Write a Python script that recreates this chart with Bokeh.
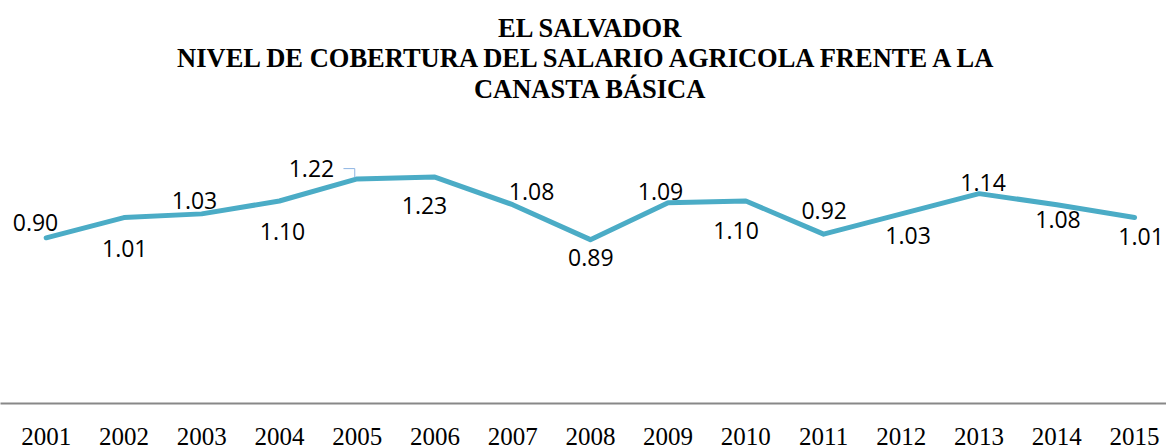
from bokeh.plotting import figure
from bokeh.models import ColumnDataSource, Range1d, FixedTicker, Label
from bokeh.core.properties import value
from bokeh.embed import file_html
from bokeh.resources import INLINE

# ---------------- data ----------------
years = [2001, 2002, 2003, 2004, 2005, 2006, 2007, 2008,
         2009, 2010, 2011, 2012, 2013, 2014, 2015]
year_labels = ["2001", "2002", "2003", "2004", "2005", "2006", "2007", "2008",
               "2009", "2010", "2011", "2012", "2013", "2014", "2015"]
coverage = [0.90, 1.01, 1.03, 1.10, 1.22, 1.23, 1.08, 0.89,
            1.09, 1.10, 0.92, 1.03, 1.14, 1.08, 1.01]
coverage_labels = ["0.90", "1.01", "1.03", "1.10", "1.22", "1.23", "1.08", "0.89",
                   "1.09", "1.10", "0.92", "1.03", "1.14", "1.08", "1.01"]
title_lines = ["EL SALVADOR",
               "NIVEL DE COBERTURA DEL SALARIO AGRICOLA FRENTE A LA",
               "CANASTA BÁSICA"]

# ---------------- layout (screen pixels) ----------------
FRAME_W = 1166
FRAME_H = 403
PX_PER_YEAR = 77.74
PX_PER_UNIT = 184.1
FIRST_YEAR_PX = 45.7            # distance of first category from frame left
label_dx = [-10.7, 0.8, -7.2, 3.1, -45.7, -10.4, 18.9, 0.4,
            -7.6, -9.8, 0.6, 6.7, 4.0, 1.2, 6.5]
label_dy = [-15.8, 31.0, -13.1, 30.6, -9.9, 28.2, -13.1, 17.4,
            -11.5, 29.6, -23.5, 21.9, -11.3, 14.6, 19.4]
title_baselines_px = [27, 57.5, 88]   # distance of title baselines from frame top
LINE_COLOR = "#4BACC6"

x_start = years[0] - FIRST_YEAR_PX / PX_PER_YEAR
x_end = x_start + FRAME_W / PX_PER_YEAR
y_end = FRAME_H / PX_PER_UNIT

p = figure(frame_width=FRAME_W, frame_height=FRAME_H,
           x_range=Range1d(x_start, x_end), y_range=Range1d(0, y_end),
           output_backend="svg", toolbar_location=None,
           min_border_left=0, min_border_right=0, min_border_top=0,
           min_border_bottom=0, background_fill_color="white",
           border_fill_color="white")
p.outline_line_color = None
p.grid.visible = False
p.yaxis.visible = False

ax = p.xaxis[0]
ax.ticker = FixedTicker(ticks=years)
ax.major_label_overrides = {y: s for y, s in zip(years, year_labels)}
ax.axis_line_color = "#888888"
ax.axis_line_width = 2
ax.major_tick_in = 0
ax.major_tick_out = 0
ax.minor_tick_in = 0
ax.minor_tick_out = 0
ax.major_label_standoff = 24
ax.major_label_text_font = "Liberation Serif"
ax.major_label_text_font_size = "25px"
ax.major_label_text_color = "black"

src = ColumnDataSource(dict(x=years, y=coverage, t=coverage_labels,
                            dx=label_dx, dy=label_dy))
p.line("x", "y", source=src, line_color=LINE_COLOR, line_width=5,
       line_join="round", line_cap="round")
p.text("x", "y", text="t", source=src, x_offset="dx", y_offset="dy",
       text_align="center", text_baseline="middle",
       text_font=value("Open Sans"), text_font_size="23px", text_color="black")

# leader line for the 2005 label
i5 = years.index(2005)
lx = [years[i5] - 13.7 / PX_PER_YEAR, years[i5] - 2.4 / PX_PER_YEAR, years[i5] - 2.4 / PX_PER_YEAR]
ly = [coverage[i5] + 10.3 / PX_PER_UNIT, coverage[i5] + 10.3 / PX_PER_UNIT, coverage[i5] + 1.5 / PX_PER_UNIT]
p.line(lx, ly, line_color="#8EB4E3", line_width=1)

# title
mid_year = years[len(years) // 2]
for line, base in zip(title_lines, title_baselines_px):
    p.add_layout(Label(x=mid_year, y=(FRAME_H - base) / PX_PER_UNIT,
                       text=line, text_align="center", text_baseline="alphabetic",
                       text_font="Liberation Serif", text_font_style="bold",
                       text_font_size="26.5px", text_color="black"))

open("out.html", "w").write(file_html(p, INLINE))
